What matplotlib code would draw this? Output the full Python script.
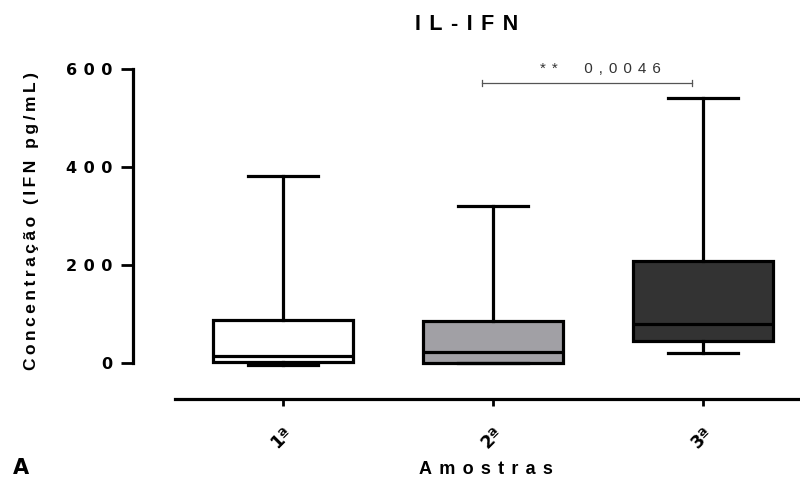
import matplotlib
matplotlib.use("Agg")
import matplotlib.pyplot as plt

# ---------------- data ----------------
groups = ["1ª", "2ª", "3ª"]
whis_low = [-3, 0, 20]
q1 = [3, 0, 46]
median = [15, 22, 79]
q3 = [89, 86, 209]
whis_high = [381, 320, 540]
box_colors = ["#ffffff", "#a1a0a5", "#333333"]
y_ticks = [0, 200, 400, 600]
sig_text = "**  0,0046"

plt.rcParams['font.family'] = ['Liberation Sans', 'DejaVu Sans']
THIN = "\u2009"


def spaced(s, k=1):
    # fake letter spacing (the original uses very wide tracking)
    return (THIN * k).join(s)


fig = plt.figure(figsize=(8, 4.88), dpi=100)
ax = fig.add_axes([133 / 800, 1 - 399 / 488, (800 - 133) / 800, (399 - 59) / 488])

stats = []
for i in range(len(groups)):
    stats.append({'label': groups[i], 'whislo': whis_low[i], 'q1': q1[i],
                  'med': median[i], 'q3': q3[i], 'whishi': whis_high[i]})

lw = 2.3
bp = ax.bxp(stats, positions=[1, 2, 3], widths=0.67, patch_artist=True,
            showfliers=False,
            boxprops=dict(linewidth=lw, edgecolor='black'),
            medianprops=dict(linewidth=lw, color='black'),
            whiskerprops=dict(linewidth=lw, color='black'),
            capprops=dict(linewidth=lw, color='black'),
            capwidths=0.33)
for patch, c in zip(bp['boxes'], box_colors):
    patch.set_facecolor(c)

ax.set_xlim(0.286, 3.462)
ax.set_ylim(-73, 620)

# prism-like axes
for s in ['top', 'right']:
    ax.spines[s].set_visible(False)
ax.spines['left'].set_bounds(0, 600)
ax.spines['bottom'].set_bounds(0.486, 3.462)
ax.spines['left'].set_linewidth(2.3)
ax.spines['bottom'].set_linewidth(2.3)

ax.set_yticks(y_ticks)
ax.set_yticklabels([spaced(str(v), 2) for v in y_ticks], fontweight='bold',
                   fontsize=11.5, family='DejaVu Sans')
ax.tick_params(axis='y', length=9, width=2, pad=6)
ax.set_xticks([1, 2, 3])
ax.set_xticklabels(groups, rotation=45, ha='right', rotation_mode='anchor',
                   fontweight='bold', fontsize=12.5, family='DejaVu Sans')
ax.tick_params(axis='x', length=5, width=2, pad=13)

# significance bracket
bx0, bx1, by = 1.95, 2.95, 571
ax.plot([bx0, bx1], [by, by], color='#555555', lw=0.9, clip_on=False)
for x in (bx0, bx1):
    ax.plot([x, x], [by - 6, by + 6], color='#555555', lw=0.9, clip_on=False)
ax.text((bx0 + bx1) / 2 + 0.06, by + 14, spaced(sig_text, 2), ha='center',
        va='bottom', fontsize=11, color='#333333')

# texts
fig.text(467 / 800, 1 - 25 / 488, spaced("IL-IFN", 2), ha='center', va='center',
         fontweight='bold', fontsize=15.5)
fig.text(32 / 800, 1 - 221 / 488, spaced("Concentração (IFN pg/mL)", 1),
         rotation=90, ha='center', va='center', fontweight='bold', fontsize=12.5)
fig.text(486 / 800, 1 - 470 / 488, spaced("Amostras", 2), ha='center',
         va='center', fontweight='bold', fontsize=13)
fig.text(21 / 800, 1 - 468 / 488, "A", ha='center', va='center',
         fontweight='bold', fontsize=15, family='DejaVu Sans')

fig.savefig("out.png", dpi=100)
